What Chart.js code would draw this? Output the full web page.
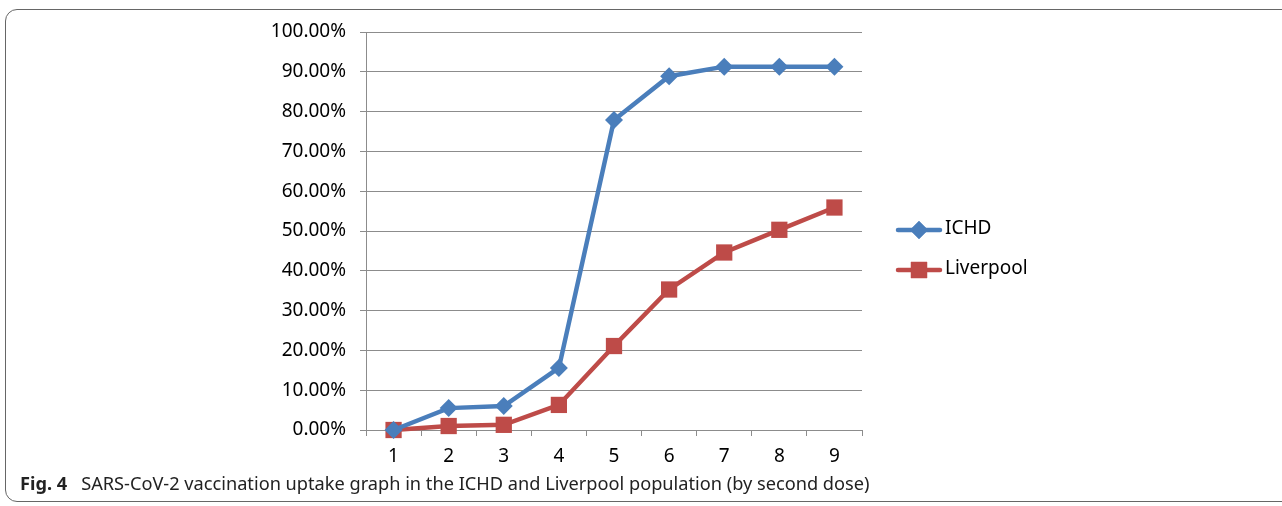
<!DOCTYPE html>
<html>
<head>
<meta charset="utf-8">
<script src="https://cdn.jsdelivr.net/npm/chart.js@4.4.1/dist/chart.umd.min.js"></script>
<style>
  html, body { margin: 0; padding: 0; background: #fff; overflow: hidden; }
  #wrap { position: relative; width: 1282px; height: 506px; }
  #frame {
    position: absolute; left: 5px; top: 9px; width: 1300px; height: 493px;
    border: 1.5px solid #666; border-radius: 12px; box-sizing: border-box;
  }
  #chart { position: absolute; left: 0; top: 0; }
  .legend { position: absolute; left: 895px; font-family: "Noto Sans", sans-serif; font-size: 19px; color: #000; }
  .legend canvas { vertical-align: middle; }
  .legend span { position: absolute; left: 50px; top: 50%; transform: translateY(-50%); white-space: nowrap; }
  #caption {
    position: absolute; left: 20px; top: 471px; font-family: "Noto Sans", sans-serif;
    font-size: 18.2px; color: #222; white-space: nowrap;
  }
  #caption b { margin-right: 14px; }
</style>
</head>
<body>
<div id="wrap">
  <div id="frame"></div>
  <canvas id="chart" width="1282" height="506"></canvas>
  <div class="legend" id="legICHD" style="top:215px;height:24px;width:140px"><canvas width="48" height="24"></canvas><span>ICHD</span></div>
  <div class="legend" id="legLiv" style="top:255px;height:24px;width:140px"><canvas width="48" height="24"></canvas><span>Liverpool</span></div>
  <div id="caption"><b>Fig. 4</b>SARS-CoV-2 vaccination uptake graph in the ICHD and Liverpool population (by second dose)</div>
</div>
<script>
// Data
const categories = ['1', '2', '3', '4', '5', '6', '7', '8', '9'];
const ichdValues = [0, 5.5, 6.0, 15.6, 77.9, 88.9, 91.3, 91.3, 91.3];
const liverpoolValues = [0, 1.0, 1.3, 6.3, 21.1, 35.3, 44.6, 50.3, 55.9];
const seriesNames = ['ICHD', 'Liverpool'];

const blue = '#4a7ebb';
const red = '#be4b48';
const gridColor = '#8c8c8c';
const tickFont = { family: 'Noto Sans', size: 19 };

const ctx = document.getElementById('chart').getContext('2d');
const chart = new Chart(ctx, {
    type: 'line',
    data: {
        labels: categories,
        datasets: [{
            label: seriesNames[0],
            data: ichdValues,
            borderColor: blue,
            backgroundColor: blue,
            borderWidth: 4.5,
            pointStyle: 'rectRot',
            pointRadius: 9,
            pointBorderWidth: 0,
            tension: 0,
            clip: false
        }, {
            label: seriesNames[1],
            data: liverpoolValues,
            borderColor: red,
            backgroundColor: red,
            borderWidth: 4.5,
            pointStyle: 'rect',
            pointRadius: 11.5,
            pointBorderWidth: 0,
            tension: 0,
            clip: false
        }]
    },
    options: {
        responsive: false,
        animation: false,
        layout: { padding: { left: 0, top: 32, right: 420, bottom: 0 } },
        plugins: {
            legend: { display: false },
            tooltip: { enabled: false }
        },
        scales: {
            x: {
                offset: true,
                afterFit: scale => { scale.height = 76; },
                grid: { offset: true, drawOnChartArea: false, drawTicks: true, tickLength: 6, color: gridColor },
                border: { color: gridColor, width: 1 },
                ticks: { color: '#000', font: tickFont, padding: 9 }
            },
            y: {
                min: 0,
                max: 100,
                afterFit: scale => { scale.width = 366; },
                grid: { color: gridColor, lineWidth: 1, tickLength: 6 },
                border: { color: gridColor, width: 1 },
                ticks: {
                    stepSize: 10,
                    color: '#000',
                    font: tickFont,
                    padding: 14,
                    callback: v => v.toFixed(2) + '%'
                }
            }
        }
    }
});

// Legend swatches: line with marker
function drawSwatch(id, color, style) {
    const c = document.querySelector('#' + id + ' canvas').getContext('2d');
    c.strokeStyle = color;
    c.lineWidth = 4.5;
    c.lineCap = 'round';
    c.beginPath();
    c.moveTo(3, 12);
    c.lineTo(45, 12);
    c.stroke();
    c.fillStyle = color;
    Chart.helpers.drawPoint(c, { pointStyle: style, radius: style === 'rect' ? 11.5 : 9, borderWidth: 0 }, 24, 12);
    c.fill();
}
drawSwatch('legICHD', blue, 'rectRot');
drawSwatch('legLiv', red, 'rect');
</script>
</body>
</html>
